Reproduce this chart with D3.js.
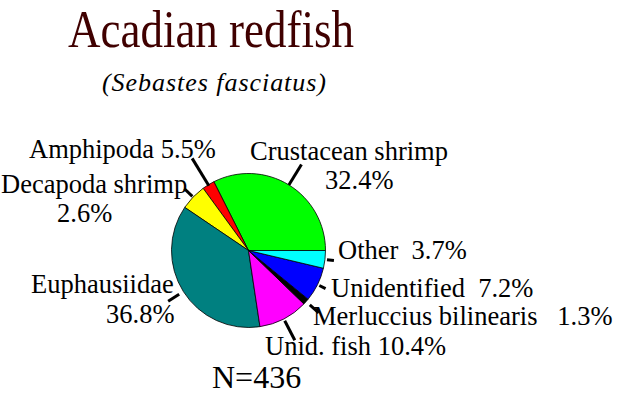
<!DOCTYPE html>
<html>
<head>
<meta charset="utf-8">
<script src="https://cdn.jsdelivr.net/npm/d3@7/dist/d3.min.js"></script>
<style>
  html, body { margin: 0; padding: 0; background: #fff; }
  svg { display: block; }
  text { white-space: pre; }
</style>
</head>
<body>
<svg id="chart" width="617" height="416"></svg>
<script>
// ---- data ----
const titleText = "Acadian redfish";
const subtitleText = "(Sebastes fasciatus)";
const sampleText = "N=436";
const categories = ["Crustacean shrimp", "Amphipoda", "Decapoda shrimp", "Euphausiidae",
                    "Unid. fish", "Merluccius bilinearis", "Unidentified", "Other"];
const sliceValues = [32.4, 2.6, 5.5, 36.8, 10.4, 1.3, 7.2, 3.7];
const percentLabels = ["32.4%", "5.5%", "2.6%", "36.8%", "10.4%", "1.3%", "7.2%", "3.7%"];
const sliceColors = ["#00ff00", "#ff0000", "#ffff00", "#008080",
                     "#ff00ff", "#000000", "#0000ff", "#00ffff"];

// ---- layout ----
const FONT = "'Liberation Serif', 'Times New Roman', serif";
const cx = 248.5, cy = 250.5, R = 77;
const labelLayout = [
  [{t: "{c}", x: 250, y: 160}, {t: "{p}", x: 325, y: 189}],
  [{t: "{c} {p}", x: 29, y: 158}],
  [{t: "{c}", x: 1, y: 193}, {t: "{p}", x: 57, y: 222}],
  [{t: "{c}", x: 31, y: 293}, {t: "{p}", x: 106, y: 323}],
  [{t: "{c} {p}", x: 265, y: 355}],
  [{t: "{c}   {p}", x: 313, y: 325}],
  [{t: "{c}  {p}", x: 331, y: 297}],
  [{t: "{c}  {p}", x: 338, y: 259}]
];
const leaderLayout = [[77, 101], [76, 108], [78, 89], [82, 95], [79, 101], [82, 94], [79, 86], [79, 86]];

const svg = d3.select("#chart");

// title
svg.append("text")
  .attr("x", 68).attr("y", 47)
  .attr("font-family", FONT)
  .attr("font-size", 52)
  .attr("fill", "#400000")
  .attr("textLength", 286)
  .attr("lengthAdjust", "spacingAndGlyphs")
  .text(titleText);

svg.append("text")
  .attr("x", 102).attr("y", 91)
  .attr("font-family", FONT)
  .attr("font-size", 26)
  .attr("font-style", "italic")
  .attr("fill", "#000")
  .attr("textLength", 224)
  .attr("lengthAdjust", "spacing")
  .text(subtitleText);

// pie: starts at 3 o'clock, runs counter-clockwise
const pie = d3.pie().sort(null).value(d => d)
  .startAngle(Math.PI / 2).endAngle(Math.PI / 2 - 2 * Math.PI);
const arcs = pie(sliceValues);
const arc = d3.arc().innerRadius(0).outerRadius(R);

const g = svg.append("g").attr("transform", `translate(${cx},${cy})`);
g.selectAll("path.slice").data(arcs).enter().append("path")
  .attr("class", "slice")
  .attr("d", arc)
  .attr("fill", (d, i) => sliceColors[i])
  .attr("stroke", "#000")
  .attr("stroke-width", 0.8)
  .attr("stroke-linejoin", "round");

// leader lines
g.selectAll("line.leader").data(arcs).enter().append("line")
  .attr("class", "leader")
  .each(function (d, i) {
    const a = (d.startAngle + d.endAngle) / 2;
    const [r0, r1] = leaderLayout[i];
    d3.select(this)
      .attr("x1", r0 * Math.sin(a)).attr("y1", -r0 * Math.cos(a))
      .attr("x2", r1 * Math.sin(a)).attr("y2", -r1 * Math.cos(a));
  })
  .attr("stroke", "#000")
  .attr("stroke-width", 3);

// labels
categories.forEach((c, i) => {
  labelLayout[i].forEach(l => {
    svg.append("text")
      .attr("x", l.x).attr("y", l.y)
      .attr("font-family", FONT)
      .attr("font-size", 26.5)
      .attr("fill", "#000")
      .text(l.t.replace("{c}", c).replace("{p}", percentLabels[i]));
  });
});

svg.append("text")
  .attr("x", 212).attr("y", 388)
  .attr("font-family", FONT)
  .attr("font-size", 32)
  .attr("fill", "#000")
  .text(sampleText);
</script>
</body>
</html>
